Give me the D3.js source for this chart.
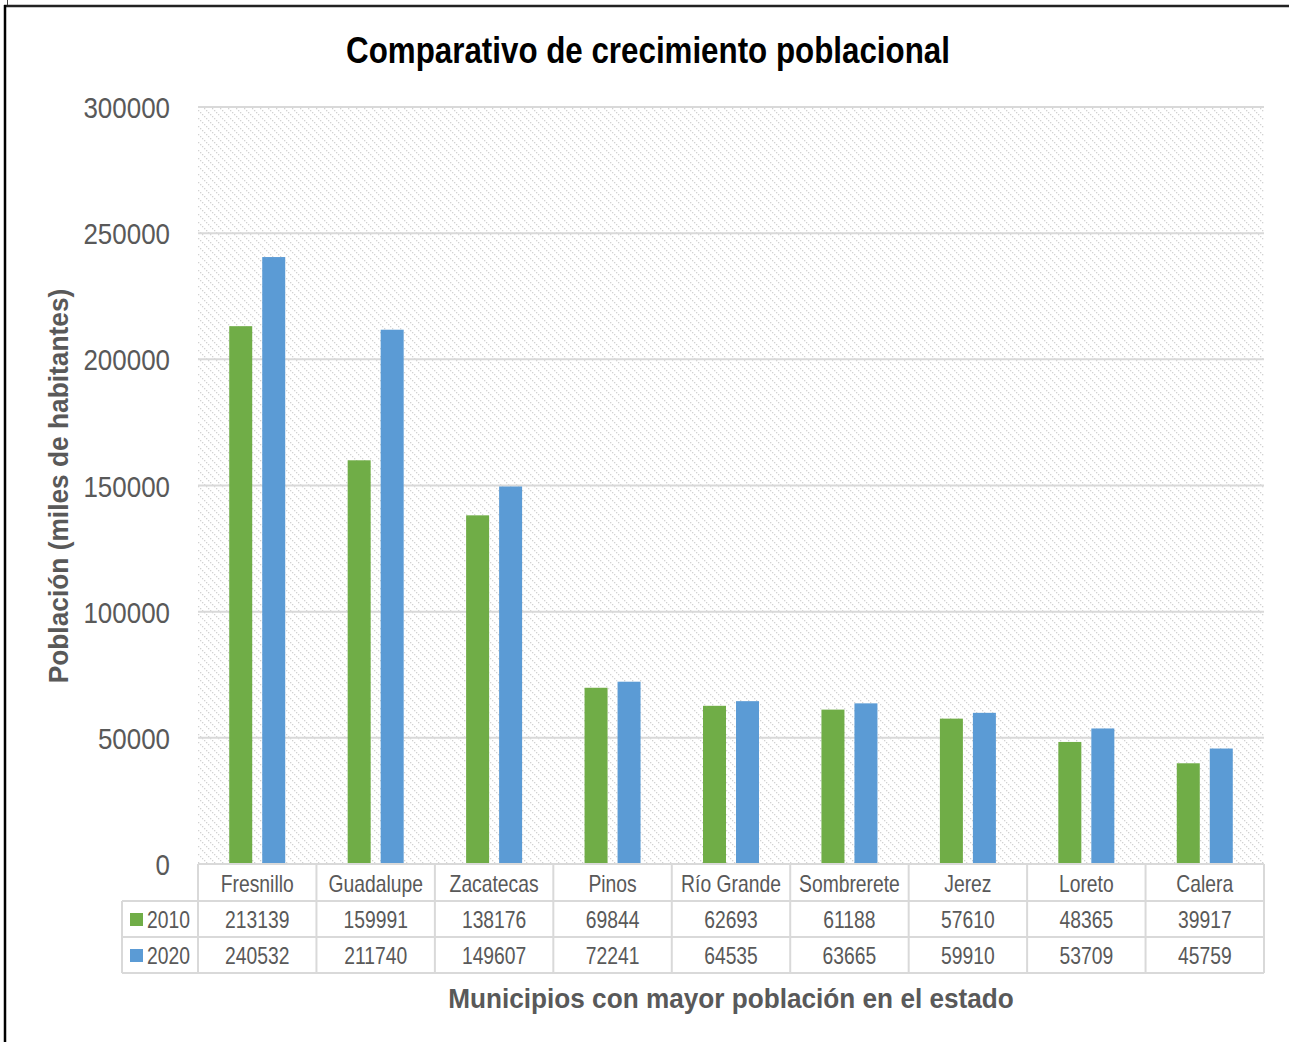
<!DOCTYPE html>
<html><head><meta charset="utf-8">
<script src="https://cdn.jsdelivr.net/npm/d3@7/dist/d3.min.js"></script>
<style>body{margin:0;background:#fff}svg{display:block}</style>
</head><body>
<script>
const categories = ["Fresnillo","Guadalupe","Zacatecas","Pinos","Río Grande","Sombrerete","Jerez","Loreto","Calera"];
const series2010 = [213139,159991,138176,69844,62693,61188,57610,48365,39917];
const series2020 = [240532,211740,149607,72241,64535,63665,59910,53709,45759];
const seriesNames = ["2010","2020"];
const seriesColors = ["#70ad47","#5b9bd5"];
const yTicks = [0,50000,100000,150000,200000,250000,300000];

const W=1289,H=1042;
const font = "'Liberation Sans',Arial,sans-serif";
const svg=d3.select("body").append("svg").attr("width",W).attr("height",H);
const defs=svg.append("defs");
const pat=defs.append("pattern").attr("id","hatch").attr("patternUnits","userSpaceOnUse")
  .attr("width",8).attr("height",8);
[0,2,4,6].forEach(i=>pat.append("rect").attr("x",i).attr("y",i).attr("width",1.3).attr("height",1.3).attr("fill","#d2d2d2"));

// frame
svg.append("line").attr("x1",4).attr("x2",W).attr("y1",6).attr("y2",6).attr("stroke","#222").attr("stroke-width",2.5);
svg.append("line").attr("x1",5).attr("x2",5).attr("y1",5).attr("y2",H).attr("stroke","#000").attr("stroke-width",2.5);
svg.append("line").attr("x1",7.5).attr("x2",7.5).attr("y1",0).attr("y2",5).attr("stroke","#444").attr("stroke-width",1);

const L=198,R=1264,T=107,B=864;
const x=d3.scaleBand().domain(categories).range([L,R]);
const y=d3.scaleLinear().domain([0,300000]).range([B,T]);

svg.append("rect").attr("x",L).attr("y",T).attr("width",R-L).attr("height",B-T).attr("fill","url(#hatch)");

// grid
svg.append("g").selectAll("line").data(yTicks.filter(d=>d>0)).join("line")
  .attr("x1",L).attr("x2",R).attr("y1",d=>y(d)).attr("y2",d=>y(d))
  .attr("stroke","#d9d9d9").attr("stroke-width",2);

function stext(sel,xx,yy,t,opts){
  const e=sel.append("text").attr("transform",`translate(${xx},${yy})${opts.rot?` rotate(${opts.rot})`:""} scale(${opts.sx||1},1)`)
    .attr("text-anchor",opts.anchor||"middle").attr("font-family",font)
    .attr("font-size",opts.size).attr("fill",opts.fill||"#595959").text(t);
  if(opts.bold) e.attr("font-weight","bold");
  if(opts.central) e.attr("dominant-baseline","central");
  return e;
}

// y axis labels
const yg=svg.append("g");
yTicks.forEach(v=>stext(yg,170,y(v)+11,d3.format("d")(v),{size:30,anchor:"end",sx:0.865}));

// bars
const bw=x.bandwidth();
const xs=d3.scaleBand().domain(seriesNames).range([(bw-56)/2,(bw+56)/2]).paddingInner(10/33);
const g=svg.append("g");
categories.forEach((c,i)=>{
  [series2010[i],series2020[i]].forEach((v,j)=>{
    g.append("rect").attr("x",x(c)+xs(seriesNames[j])).attr("y",y(v))
      .attr("width",xs.bandwidth()).attr("height",y(0)-y(v)).attr("fill",seriesColors[j]);
  });
});

// table
const r0=B, r1=B+37, r2=r1+36, r3=r2+36;
const tg=svg.append("g");
const gc="#d9d9d9";
tg.append("line").attr("x1",L).attr("x2",R).attr("y1",r0).attr("y2",r0).attr("stroke",gc).attr("stroke-width",2);
[r1,r2,r3].forEach(yy=>tg.append("line").attr("x1",122).attr("x2",R).attr("y1",yy).attr("y2",yy).attr("stroke",gc).attr("stroke-width",2));
categories.map(c=>x(c)).concat([R]).forEach(xx=>tg.append("line").attr("x1",xx).attr("x2",xx).attr("y1",r0).attr("y2",r3).attr("stroke",gc).attr("stroke-width",2));
tg.append("line").attr("x1",122).attr("x2",122).attr("y1",r1).attr("y2",r3).attr("stroke",gc).attr("stroke-width",2);

const to={size:23,sx:0.84,central:true};
categories.forEach((c,i)=>{
  const cx=x(c)+bw/2;
  stext(tg,cx,(r0+r1)/2+1,c,to);
  stext(tg,cx,(r1+r2)/2+1,series2010[i],to);
  stext(tg,cx,(r2+r3)/2+1,series2020[i],to);
});
seriesNames.forEach((s,j)=>{
  const yy=j===0?(r1+r2)/2:(r2+r3)/2;
  tg.append("rect").attr("x",130).attr("y",yy-6).attr("width",13).attr("height",13).attr("fill",seriesColors[j]);
  stext(tg,147,yy+1,s,Object.assign({},to,{anchor:"start"}));
});

// titles
stext(svg,648,63,"Comparativo de crecimiento poblacional",{size:36,bold:true,fill:"#000",sx:0.87});
stext(svg,68,486,"Población (miles de habitantes)",{size:28,bold:true,rot:-90,sx:0.94});
stext(svg,731,1008,"Municipios con mayor población en el estado",{size:28,bold:true,sx:0.935});
</script>
</body></html>
